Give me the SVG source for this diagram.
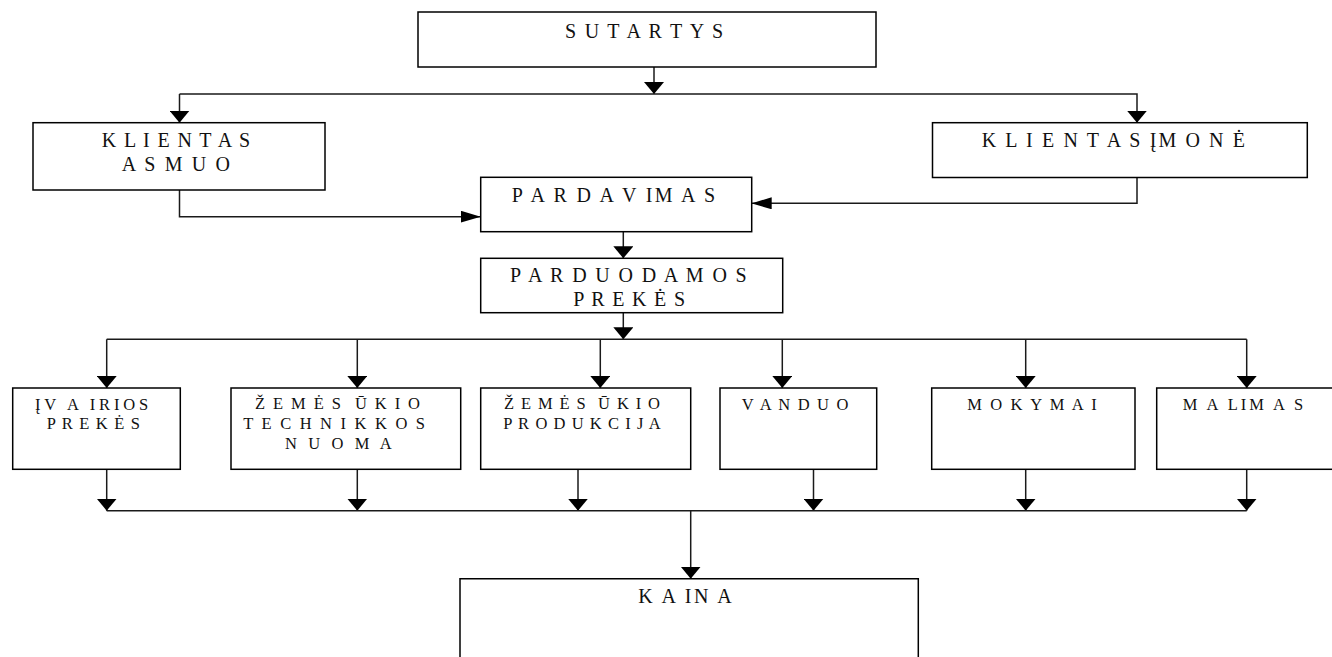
<svg xmlns="http://www.w3.org/2000/svg" width="1332" height="657" viewBox="0 0 1332 657">
<style>
  .box { fill: #fff; stroke: #000; stroke-width: 1.5; }
  .con { fill: none; stroke: #1a1a1a; stroke-width: 1.5; }
  .t20 { font-family: "Liberation Serif", "Times New Roman", serif; font-size: 20px; fill: #111; }
  .t16 { font-family: "Liberation Serif", "Times New Roman", serif; font-size: 16.5px; fill: #111; }
</style>
<defs>
  <marker id="aV" markerUnits="userSpaceOnUse" markerWidth="12" markerHeight="20" refX="12" refY="10" orient="auto" viewBox="0 0 12 20">
    <path d="M0,0 L12,10 L0,20 Z" fill="#000"/>
  </marker>
  <marker id="aH" markerUnits="userSpaceOnUse" markerWidth="20" markerHeight="12" refX="20" refY="6" orient="auto" viewBox="0 0 20 12">
    <path d="M0,0 L20,6 L0,12 Z" fill="#000"/>
  </marker>
</defs>

<g id="connectors">
  <!-- SUTARTYS to clients -->
  <path class="con" d="M654,67 V94" marker-end="url(#aV)"/>
  <path class="con" d="M179.5,94 H1137 V122.7" marker-end="url(#aV)"/>
  <path class="con" d="M179.5,94 V122.7" marker-end="url(#aV)"/>
  <!-- clients to PARDAVIMAS -->
  <path class="con" d="M179.5,190 V216.7 H480.7" marker-end="url(#aH)"/>
  <path class="con" d="M1137,177.5 V203.3 H751.7" marker-end="url(#aH)"/>
  <!-- PARDAVIMAS to PARDUODAMOS -->
  <path class="con" d="M623.3,231.7 V258.3" marker-end="url(#aV)"/>
  <path class="con" d="M623.3,312.7 V339.3" marker-end="url(#aV)"/>
  <!-- distribution bus -->
  <path class="con" d="M106.7,339.3 H1246.7"/>
  <path class="con" d="M106.7,339.3 V388" marker-end="url(#aV)"/>
  <path class="con" d="M357.3,339.3 V388" marker-end="url(#aV)"/>
  <path class="con" d="M600.3,339.3 V388" marker-end="url(#aV)"/>
  <path class="con" d="M782.3,339.3 V388" marker-end="url(#aV)"/>
  <path class="con" d="M1025.7,339.3 V388" marker-end="url(#aV)"/>
  <path class="con" d="M1246.7,339.3 V388" marker-end="url(#aV)"/>
  <!-- collection bus -->
  <path class="con" d="M106.7,469.3 V510.7" marker-end="url(#aV)"/>
  <path class="con" d="M357.3,469.3 V510.7" marker-end="url(#aV)"/>
  <path class="con" d="M578,469.3 V510.7" marker-end="url(#aV)"/>
  <path class="con" d="M813.5,469.3 V510.7" marker-end="url(#aV)"/>
  <path class="con" d="M1025.7,469.3 V510.7" marker-end="url(#aV)"/>
  <path class="con" d="M1246.7,469.3 V510.7" marker-end="url(#aV)"/>
  <path class="con" d="M106.7,510.7 H1246.7"/>
  <path class="con" d="M690.7,510.7 V578.7" marker-end="url(#aV)"/>
</g>

<g id="sutartys">
  <rect class="box" x="418" y="12" width="458" height="55"/>
  <text class="t20" x="565" y="38.3" textLength="158" lengthAdjust="spacing">S U T A R T Y S</text>
</g>

<g id="klientas-asmuo">
  <rect class="box" x="33" y="122.7" width="292" height="67.3"/>
  <text class="t20" x="101.7" y="146.7" textLength="148.3" lengthAdjust="spacing">K L I E N T A S</text>
  <text class="t20" x="121.7" y="170.7" textLength="108.3" lengthAdjust="spacing">A S M U O</text>
</g>

<g id="klientas-imone">
  <rect class="box" x="932.5" y="122.7" width="374.8" height="54.8"/>
  <text class="t20" x="981.7" y="147" textLength="263.3" lengthAdjust="spacing">K L I E N T A S ĮM O N Ė</text>
</g>

<g id="pardavimas">
  <rect class="box" x="480.7" y="177.3" width="271" height="54.4"/>
  <text class="t20" x="511.7" y="201.7" textLength="203.3" lengthAdjust="spacing">P A R D A V IM A S</text>
</g>

<g id="parduodamos-prekes">
  <rect class="box" x="480.7" y="258.3" width="302" height="54.4"/>
  <text class="t20" x="510" y="282.3" textLength="236.7" lengthAdjust="spacing">P A R D U O D A M O S</text>
  <text class="t20" x="573.3" y="306" textLength="111.7" lengthAdjust="spacing">P R E K Ė S</text>
</g>

<g id="ivairios-prekes">
  <rect class="box" x="12.7" y="388" width="167.6" height="81.3"/>
  <text class="t16" x="35" y="410" textLength="113.3" lengthAdjust="spacing">ĮV A IRIOS</text>
  <text class="t16" x="46.7" y="429" textLength="93.3" lengthAdjust="spacing">P R E K Ė S</text>
</g>

<g id="technikos-nuoma">
  <rect class="box" x="231" y="388" width="229.7" height="81.3"/>
  <text class="t16" x="255" y="409.3" textLength="165" lengthAdjust="spacing" xml:space="preserve">Ž E M Ė S  Ū K I O</text>
  <text class="t16" x="243.3" y="429" textLength="181.7" lengthAdjust="spacing">T E C H N I K K O S</text>
  <text class="t16" x="285" y="449.3" textLength="106.7" lengthAdjust="spacing">N U O M A</text>
</g>

<g id="zemes-ukio-produkcija">
  <rect class="box" x="480.7" y="388" width="210" height="81.3"/>
  <text class="t16" x="504" y="409.3" textLength="156" lengthAdjust="spacing" xml:space="preserve">Ž E M Ė S  Ū K I O</text>
  <text class="t16" x="503.3" y="429" textLength="157.4" lengthAdjust="spacing">P R O D U K C I J A</text>
</g>

<g id="vanduo">
  <rect class="box" x="720" y="388" width="156.7" height="81.3"/>
  <text class="t16" x="741.7" y="410" textLength="106.6" lengthAdjust="spacing">V A N D U O</text>
</g>

<g id="mokymai">
  <rect class="box" x="931.7" y="388" width="203.3" height="81.3"/>
  <text class="t16" x="967.3" y="410" textLength="129.4" lengthAdjust="spacing">M O K Y M A I</text>
</g>

<g id="malimas">
  <rect class="box" x="1156.7" y="388" width="180" height="81.3"/>
  <text class="t16" x="1182.7" y="410" textLength="120.6" lengthAdjust="spacing">M A LIM A S</text>
</g>

<g id="kaina">
  <path class="box" d="M460,662 V578.7 H918.3 V662"/>
  <text class="t20" x="638.3" y="603.3" textLength="93.4" lengthAdjust="spacing">K A IN A</text>
</g>
</svg>
